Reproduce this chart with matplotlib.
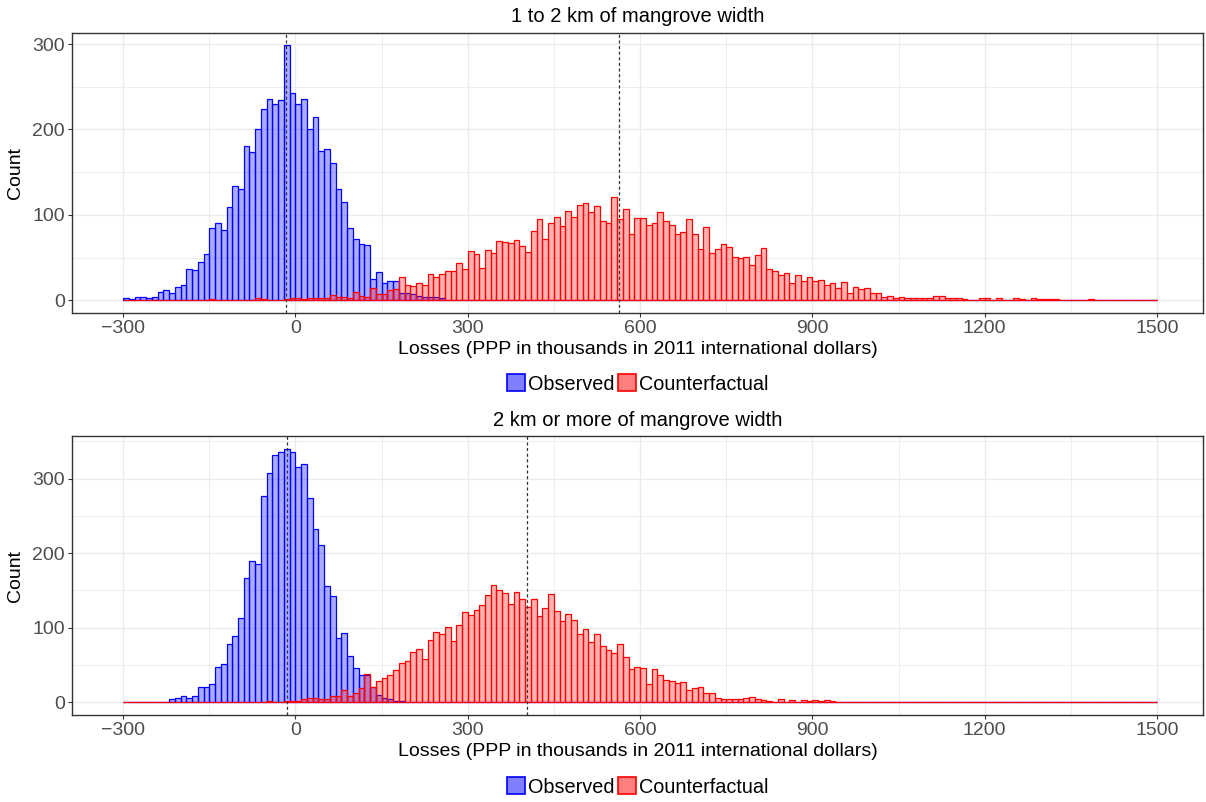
import numpy as np
import matplotlib
matplotlib.use("Agg")
import matplotlib.pyplot as plt
from matplotlib.patches import Patch

plt.rcParams['font.family'] = ['Liberation Sans', 'DejaVu Sans']

# ---------------- data ----------------
bin_start = -300      # left edge of first bin
bin_width = 10
n_bins = 180          # -300 .. 1500

titles = ["1 to 2 km of mangrove width", "2 km or more of mangrove width"]
xlabel = "Losses (PPP in thousands in 2011 international dollars)"
ylabel = "Count"
series_names = ["Observed", "Counterfactual"]
x_ticks = [-300, 0, 300, 600, 900, 1200, 1500]
y_ticks = [0, 100, 200, 300]

# Panel 1 (1 to 2 km) observed counts, bins starting at -300
obs1_start = -300
obs1 = [2, 1, 4, 4, 3, 4, 10, 12, 9, 16, 18, 36, 35, 45, 54, 85, 90, 82, 109, 134,
        130, 181, 174, 200, 224, 236, 230, 235, 299, 243, 230, 236, 200, 215, 175, 177,
        161, 130, 115, 85, 72, 66, 65, 25, 33, 20, 23, 23, 8, 9, 7, 5, 4, 4, 4, 2]

# Panel 1 counterfactual counts, bins starting at -150
cf1_start = -150
cf1 = [1, 0, 0, 0, 0, 0, 0, 0, 2, 1, 0, 0, 0, 1, 2, 2, 1, 2, 2, 2,
       3, 6, 4, 4, 2, 10, 5, 4, 14, 7, 7, 12, 13, 27, 18, 17, 20, 18, 31, 27,
       31, 34, 34, 43, 37, 58, 54, 38, 59, 55, 69, 68, 67, 71, 64, 57, 81, 95, 72, 90,
       98, 87, 105, 97, 112, 114, 103, 110, 93, 90, 121, 95, 107, 78, 96, 96, 88, 91, 103, 93,
       88, 78, 80, 95, 77, 60, 86, 55, 60, 66, 62, 51, 49, 51, 41, 53, 61, 36, 34, 30,
       32, 20, 29, 22, 27, 22, 24, 18, 20, 14, 21, 8, 16, 13, 14, 9, 9, 4, 5, 2,
       4, 3, 3, 3, 2, 2, 5, 5, 2, 2, 2, 1, 0, 0, 2, 2, 0, 2, 0, 0,
       2, 1, 0, 2, 1, 1, 1, 1, 0, 0, 0, 0, 0, 1]

# Panel 2 (2 km or more) observed counts, bins starting at -240
obs2_start = -240
obs2 = [1, 1, 4, 6, 9, 6, 8, 20, 21, 25, 47, 52, 78, 89, 113, 166, 189, 186, 277, 308,
        331, 336, 340, 336, 316, 319, 274, 233, 211, 156, 143, 86, 93, 62, 46, 36, 36, 21, 10, 6,
        4, 2, 2, 1]

# Panel 2 counterfactual counts, bins starting at -110
cf2_start = -110
cf2 = [1, 0, 0, 1, 0, 0, 2, 0, 0, 2, 2, 2, 4, 6, 6, 4, 4, 9, 9, 16,
       8, 13, 19, 38, 21, 28, 33, 36, 43, 53, 56, 67, 72, 58, 83, 94, 91, 101, 82, 104,
       121, 117, 124, 130, 144, 157, 151, 146, 132, 148, 138, 128, 139, 116, 127, 145, 123, 109, 119, 111,
       92, 98, 81, 92, 76, 70, 66, 78, 61, 44, 48, 46, 24, 45, 36, 30, 28, 26, 27, 16,
       19, 21, 12, 12, 6, 4, 4, 5, 4, 6, 7, 4, 3, 2, 0, 4, 0, 3, 0, 3,
       2, 3, 2, 3, 2, 0, 0, 0, 0, 1]

# dashed reference lines (means)
vlines1 = [-17, 564]
vlines2 = [-14, 403]

ylims = [(-15, 313), (-17, 357)]
xlim = (-389, 1580)


def full(start, vals):
    arr = np.zeros(n_bins)
    i0 = (start - bin_start) // bin_width
    arr[i0:i0 + len(vals)] = vals
    return arr


panels = [
    (full(obs1_start, obs1), full(cf1_start, cf1), vlines1),
    (full(obs2_start, obs2), full(cf2_start, cf2), vlines2),
]

lefts = bin_start + bin_width * np.arange(n_bins)

W, H = 1206, 802
fig = plt.figure(figsize=(W / 100, H / 100), dpi=100)

axes_px = [(72, 33, 1203, 313), (72, 436, 1203, 715)]
title_y = [16, 420]
legend_y = [384, 787]

grid_c = "#EBEBEB"
for k, (obs, cf, vl) in enumerate(panels):
    x0, y0, x1, y1 = axes_px[k]
    ax = fig.add_axes([x0 / W, 1 - y1 / H, (x1 - x0) / W, (y1 - y0) / H])
    ax.set_xticks(x_ticks)
    ax.set_yticks(y_ticks)
    ax.set_xticks([-150, 150, 450, 750, 1050, 1350], minor=True)
    ax.set_yticks([50, 150, 250, 350], minor=True)
    ax.grid(True, which='major', color=grid_c, lw=1.0)
    ax.grid(True, which='minor', color=grid_c, lw=0.6)
    ax.set_axisbelow(True)
    ax.tick_params(which='minor', length=0)
    ax.tick_params(which='major', length=3, width=0.8, color='#333333',
                   labelsize=14, labelcolor='#4D4D4D', pad=2)
    for s in ax.spines.values():
        s.set_color('#333333')
        s.set_linewidth(1.0)

    ax.bar(lefts, obs, width=bin_width, align='edge',
           facecolor=(0, 0, 1, 0.33), edgecolor='blue', linewidth=0.9)
    ax.bar(lefts, cf, width=bin_width, align='edge',
           facecolor=(1, 0, 0, 0.3), edgecolor=(0.85, 0.05, 0.3, 1.0) if False else 'red',
           linewidth=0.9)
    for v in vl:
        ax.axvline(v, color='#333333', ls=(0, (2.5, 2)), lw=0.9)

    ax.set_xlim(*xlim)
    ax.set_ylim(*ylims[k])

    ax.set_xlabel(xlabel, fontsize=14, color='black', labelpad=3)
    ax.set_ylabel(ylabel, fontsize=14, color='black', labelpad=6)

    fig.text((x0 + x1) / 2 / W, 1 - title_y[k] / H, titles[k],
             ha='center', va='center', fontsize=14.5)

    handles = [Patch(facecolor=(0, 0, 1, 0.5), edgecolor='blue', lw=1.2),
               Patch(facecolor=(1, 0, 0, 0.5), edgecolor='red', lw=1.2)]
    fig.legend(handles, series_names, loc='center',
               bbox_to_anchor=((x0 + x1) / 2 / W, 1 - legend_y[k] / H),
               ncol=2, frameon=False, fontsize=14.3, handlelength=0.9,
               handleheight=0.9, handletextpad=0.15, columnspacing=0.2,
               borderpad=0, borderaxespad=0)

fig.savefig("out.png", dpi=100)
